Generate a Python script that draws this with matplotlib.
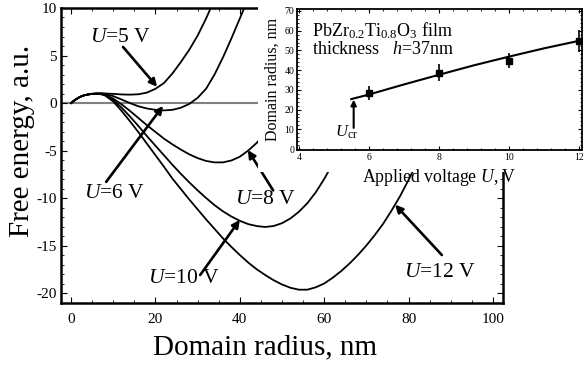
import matplotlib
matplotlib.use('Agg')
import matplotlib.pyplot as plt
from matplotlib.ticker import MultipleLocator
from matplotlib.patches import Rectangle

plt.rcParams['font.family'] = ['Liberation Serif', 'DejaVu Serif']
plt.rcParams['mathtext.fontset'] = 'custom'
plt.rcParams['mathtext.rm'] = 'Liberation Serif'
plt.rcParams['mathtext.it'] = 'Liberation Serif:italic'
plt.rcParams['axes.unicode_minus'] = False

# free energy vs domain radius, one curve per voltage
u5_x = [0, 1, 2, 3, 4, 5, 6, 7, 8, 10, 12, 14, 16, 18, 20, 22, 24, 26, 28, 30, 32, 34]
u5_y = [0, 0.35, 0.62, 0.8, 0.9, 0.97, 1.0, 1.02, 1.0, 0.96, 0.9, 0.88, 0.92, 1.1, 1.5, 2.1,
        3.1, 4.3, 5.6, 7.1, 8.9, 10.9]

u6_x = [0, 1, 2, 3, 4, 5, 6, 7, 8, 10, 12, 14, 16, 18, 20, 22, 24, 26, 28, 30, 32, 34, 36,
        38, 40, 42]
u6_y = [0, 0.35, 0.62, 0.8, 0.9, 0.97, 1.0, 1.01, 0.97, 0.72, 0.36, -0.02, -0.35, -0.58,
        -0.72, -0.78, -0.72, -0.5, -0.1, 0.55, 1.5, 3.0, 4.8, 6.8, 8.9, 11.0]

u8_x = [0, 1, 2, 3, 4, 5, 6, 7, 8, 10, 12, 14, 16, 18, 20, 22, 24, 26, 28, 30, 32, 34, 36,
        38, 40, 42, 44, 46, 48, 50]
u8_y = [0, 0.35, 0.62, 0.8, 0.9, 0.96, 0.99, 0.98, 0.9, 0.45, -0.15, -0.85, -1.6, -2.35,
        -3.05, -3.75, -4.35, -4.9, -5.4, -5.8, -6.1, -6.25, -6.25, -6.05, -5.65, -5.0, -4.2,
        -3.2, -2.0, -0.6]

u10_x = [0, 1, 2, 3, 4, 5, 6, 7, 8, 10, 12, 14, 16, 18, 20, 22, 24, 26, 28, 30, 32, 34, 36,
         38, 40, 42, 44, 46, 48, 50, 52, 54, 56, 58, 60, 62, 64]
u10_y = [0, 0.35, 0.62, 0.8, 0.9, 0.96, 0.97, 0.95, 0.85, 0.3, -0.5, -1.45, -2.45, -3.5,
         -4.5, -5.5, -6.5, -7.45, -8.35, -9.2, -10.0, -10.75, -11.4, -11.95, -12.4, -12.75,
         -12.95, -13.05, -12.95, -12.65, -12.15, -11.45, -10.55, -9.4, -8.0, -6.4, -4.6]

u12_x = [0, 1, 2, 3, 4, 5, 6, 7, 8, 10, 12, 14, 16, 18, 20, 22, 24, 26, 28, 30, 32, 34, 36,
         38, 40, 42, 44, 46, 48, 50, 52, 54, 56, 58, 60, 62, 64, 66, 68, 70, 72, 74, 76, 78,
         80, 82, 84]
u12_y = [0, 0.35, 0.62, 0.8, 0.9, 0.95, 0.96, 0.93, 0.8, 0.15, -0.85, -1.95, -3.1, -4.3,
         -5.5, -6.7, -7.95, -9.05, -10.15, -11.2, -12.25, -13.25, -14.25, -15.15, -16.0,
         -16.8, -17.5, -18.1, -18.65, -19.1, -19.45, -19.65, -19.65, -19.4, -19.0, -18.4,
         -17.7, -16.9, -16.0, -15.0, -13.9, -12.7, -11.3, -9.8, -8.1, -6.3, -4.3]

curve_labels = ['$U$=5 V', '$U$=6 V', '$U$=8 V', '$U$=10 V', '$U$=12 V']
label_pos = [(11.6, 6.9), (10.4, -9.5), (46.0, -10.2), (26.8, -18.5), (87.4, -17.8)]
arrow_from = [(12.3, 5.9), (8.3, -8.3), (47.9, -9.2), (30.6, -18.1), (87.9, -16.0)]
arrow_to = [(20.4, 1.7), (21.8, -0.3), (41.9, -4.95), (40.0, -12.3), (76.8, -10.7)]

# inset: domain radius vs applied voltage
volt = [6, 8, 10, 12]
radius = [28.3, 38.7, 44.7, 54.8]
radius_err = [3.5, 4.3, 3.8, 5.8]
fit_volt = [5.5, 6, 7, 8, 9, 10, 11, 12]
fit_radius = [25.3, 27.6, 32.7, 37.6, 42.4, 46.8, 51.0, 54.8]
u_cr = 5.57

fig = plt.figure(figsize=(5.84, 3.72), dpi=100)
ax = fig.add_axes([0.1045, 0.1855, 0.7568, 0.793])

ax.axhline(0, color='#808080', lw=1.5, zorder=1)
for xs, ys in [(u5_x, u5_y), (u6_x, u6_y), (u8_x, u8_y), (u10_x, u10_y), (u12_x, u12_y)]:
    ax.plot(xs, ys, color='black', lw=1.3, zorder=2)

for txt, pos, p0, p1 in zip(curve_labels, label_pos, arrow_from, arrow_to):
    ax.text(pos[0], pos[1], txt, fontsize=15.5, ha='center', va='center', zorder=3)
    ax.annotate('', xy=p1, xytext=p0,
                arrowprops=dict(arrowstyle='-|>', color='black', lw=1.9,
                                mutation_scale=11, shrinkA=0, shrinkB=0), zorder=3)

ax.set_xlim(-2.4, 102.4)
ax.set_ylim(-21.05, 10)
ax.xaxis.set_major_locator(MultipleLocator(20))
ax.xaxis.set_minor_locator(MultipleLocator(5))
ax.yaxis.set_major_locator(MultipleLocator(5))
ax.yaxis.set_minor_locator(MultipleLocator(1))
ax.tick_params(which='both', direction='in', top=True, right=True, labelsize=11)
ax.tick_params(axis='y', which='major', length=4, pad=3)
ax.tick_params(axis='x', which='major', length=4, pad=7)
ax.tick_params(which='minor', length=2)
for s in ax.spines.values():
    s.set_linewidth(1.8)

# white backing of the inset picture (covers curves below it)
ax.add_patch(Rectangle((0.442, 0.5376), 0.6, 0.5, transform=fig.transFigure,
                       facecolor='white', edgecolor='none', zorder=5, clip_on=False))

fig.text(0.454, 0.065, 'Domain radius, nm', fontsize=21, ha='center', va='center')
fig.text(0.038, 0.62, 'Free energy, a.u.', fontsize=21, rotation=90,
         ha='center', va='center')

ins = fig.add_axes([0.5086, 0.5968, 0.488, 0.379])
ins.plot(fit_volt, fit_radius, color='black', lw=1.5)
ins.errorbar(volt, radius, yerr=radius_err, fmt='s', color='black', ms=4.5,
             elinewidth=1.2, capsize=0)
ins.annotate('', xy=(u_cr, 25), xytext=(u_cr, 10.7),
             arrowprops=dict(arrowstyle='-|>', color='black', lw=1.5,
                             mutation_scale=8, shrinkA=0, shrinkB=0))
ins.text(5.37, 8.3, '$U_{\\mathrm{cr}}$', fontsize=12, ha='center', va='center')
ins.text(0.053, 0.85, 'PbZr$_{0.2}$Ti$_{0.8}$O$_3$ film', transform=ins.transAxes,
         fontsize=13, ha='left', va='center')
ins.text(0.053, 0.71, 'thickness   $h$=37nm', transform=ins.transAxes,
         fontsize=13, ha='left', va='center')

ins.set_xlim(3.95, 12.1)
ins.set_ylim(-0.5, 71)
ins.xaxis.set_major_locator(MultipleLocator(2))
ins.xaxis.set_minor_locator(MultipleLocator(0.4))
ins.yaxis.set_major_locator(MultipleLocator(10))
ins.yaxis.set_minor_locator(MultipleLocator(2))
ins.tick_params(which='both', direction='in', top=True, right=True, labelsize=7, pad=2)
ins.tick_params(which='major', length=3)
ins.tick_params(which='minor', length=1.5)
for s in ins.spines.values():
    s.set_linewidth(1.3)
ins.set_xlabel('Applied voltage $U$, V', fontsize=12.8, labelpad=4)
ins.set_ylabel('Domain radius, nm', fontsize=11.5, labelpad=3)

fig.savefig('out.png', dpi=100)
